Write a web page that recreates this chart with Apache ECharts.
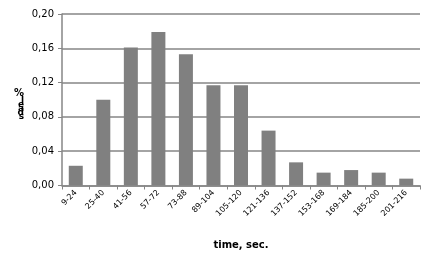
<!DOCTYPE html>
<html><head><meta charset="utf-8">
<script src="https://cdn.jsdelivr.net/npm/echarts@6/dist/echarts.min.js"></script>
<style>html,body{margin:0;padding:0;background:#fff}#c{width:433px;height:261px}</style>
</head><body><div id="c"></div>
<script>
const categories = ['9-24','25-40','41-56','57-72','73-88','89-104','105-120','121-136','137-152','153-168','169-184','185-200','201-216'];
const values = [0.023,0.100,0.161,0.179,0.153,0.117,0.117,0.064,0.027,0.015,0.018,0.015,0.008];
const yTicks = [0,0.04,0.08,0.12,0.16,0.20];
const xTitle = 'time, sec.';
const yTitle = '% leads';

const chart = echarts.init(document.getElementById('c'));
const stacked = '{p|' + yTitle.split(' ')[0] + '}\n' + yTitle.split(' ')[1].split('').map(ch => '{l|' + ch + '}').join('\n');
chart.setOption({
  animation: false,
  grid: {left: 62, right: 13, top: 14, bottom: 75.5},
  xAxis: {
    type: 'category', data: categories,
    name: xTitle, nameLocation: 'middle', nameGap: 55,
    nameTextStyle: {fontFamily: 'DejaVu Sans', fontSize: 10, fontWeight: 'bold', color: '#000'},
    axisLine: {lineStyle: {color: '#868686', width: 1.5}},
    axisTick: {show: true, length: 4, lineStyle: {color: '#868686'}},
    axisLabel: {rotate: 45, interval: 0, fontFamily: 'DejaVu Sans', fontSize: 8, color: '#000', margin: 6}
  },
  yAxis: {
    type: 'value', min: 0, max: 0.20, interval: 0.04,
    name: stacked, nameLocation: 'middle', nameGap: 38, nameRotate: 0,
    nameTextStyle: {padding: [0, 0, -8, 0], rich: {
      p: {fontFamily: 'DejaVu Sans', fontSize: 10, fontWeight: 'bold', color: '#000', lineHeight: 10},
      l: {fontFamily: 'DejaVu Sans', fontSize: 9, fontWeight: 'bold', color: '#000', lineHeight: 4}
    }},
    axisLine: {show: true, lineStyle: {color: '#868686', width: 1.5}},
    axisTick: {show: true, length: 4, lineStyle: {color: '#868686'}},
    splitLine: {lineStyle: {color: '#868686', width: 1.5}},
    axisLabel: {fontFamily: 'DejaVu Sans', fontSize: 10, color: '#000', margin: 8,
      formatter: v => v.toFixed(2).replace('.', ',')}
  },
  series: [{
    type: 'bar', data: values, barWidth: 14,
    itemStyle: {color: '#808080'}
  }]
});
</script></body></html>
